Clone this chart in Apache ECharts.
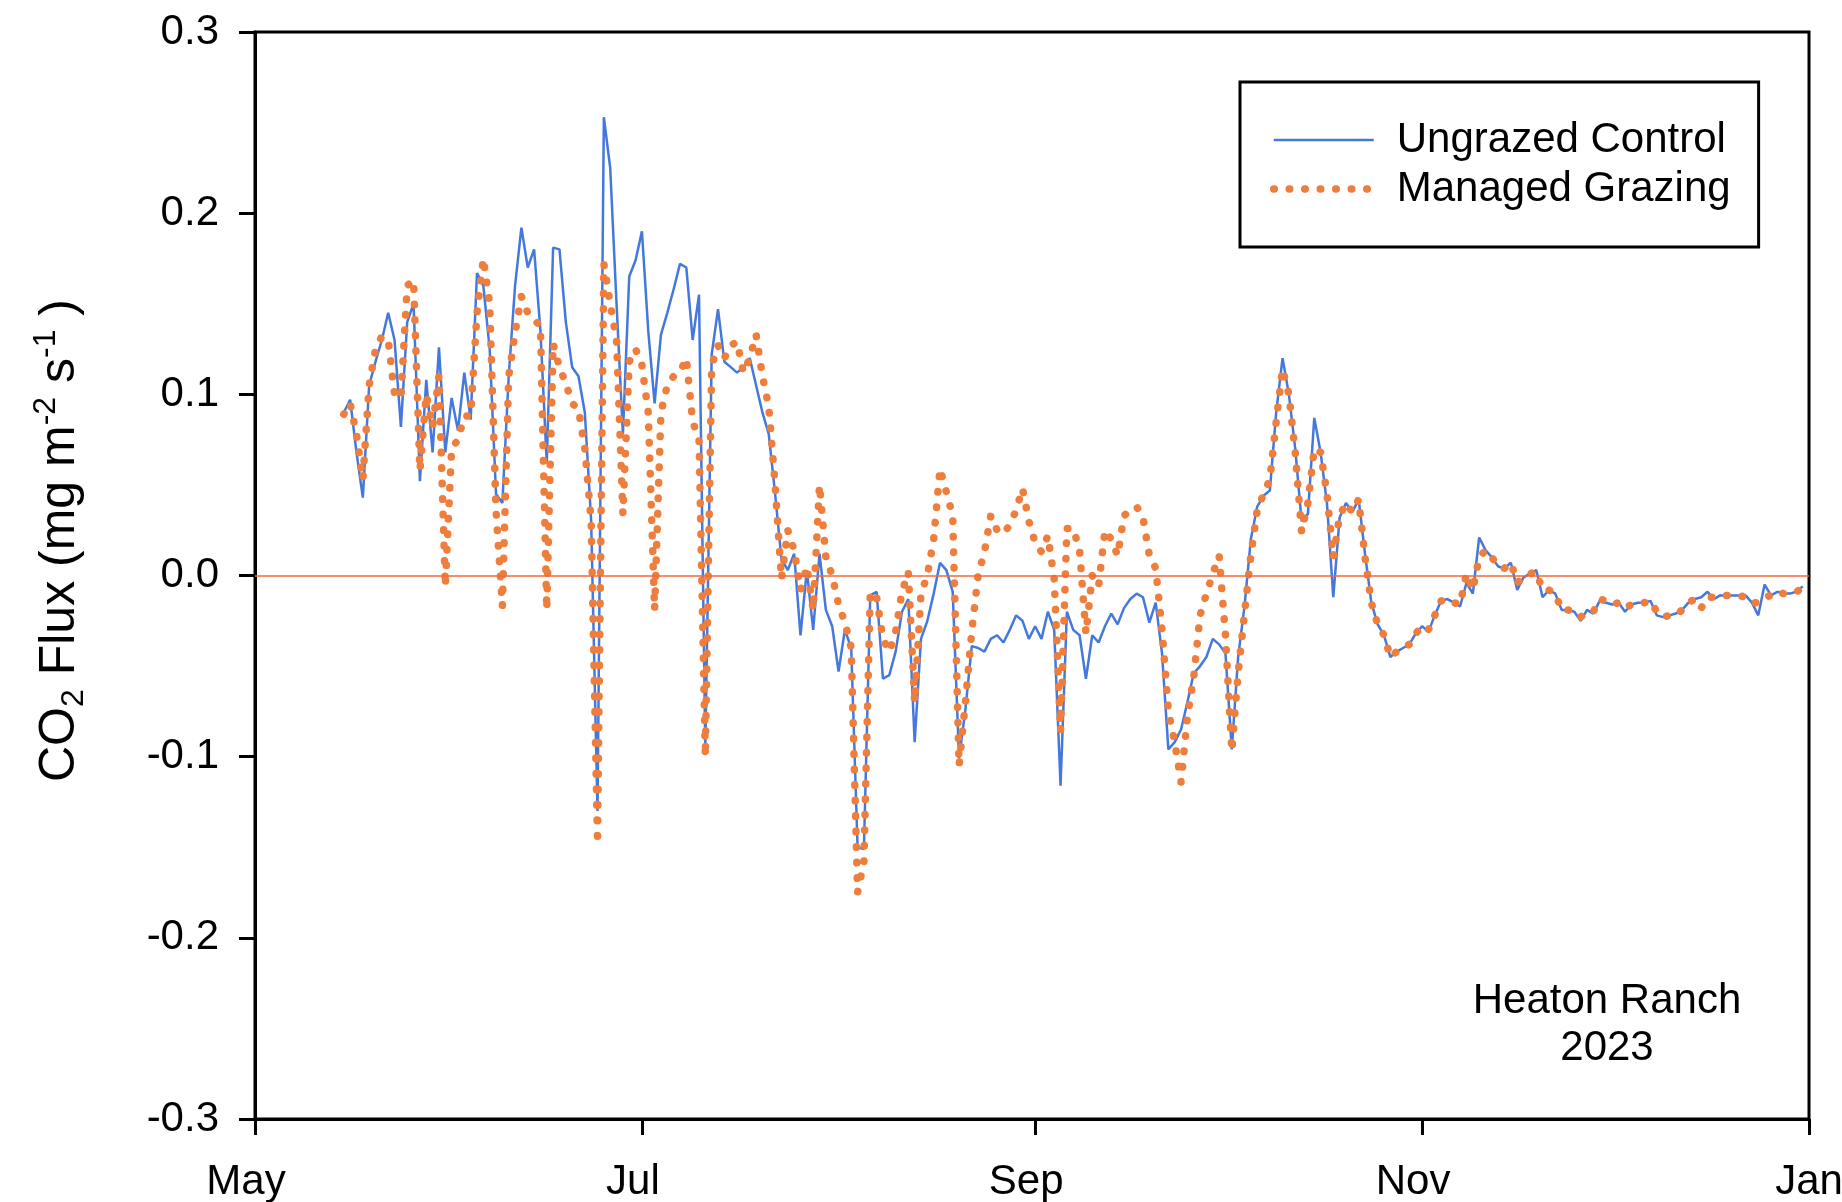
<!DOCTYPE html>
<html><head><meta charset="utf-8">
<script src="https://cdn.jsdelivr.net/npm/echarts@6.0.0/dist/echarts.min.js"></script>
<style>html,body{margin:0;padding:0;background:#fff}#c{width:1842px;height:1202px}</style>
</head><body><div id="c"></div>
<script>
const seriesNames = ['Ungrazed Control', 'Managed Grazing'];
const firstDay = [2023, 4, 15]; // first daily value: 15 May 2023
const ungrazed = [
 0.090, 0.097, 0.068, 0.043, 0.105, 0.118, 0.130, 0.145, 0.130, 0.082,
 0.140, 0.150, 0.052, 0.108, 0.068, 0.126, 0.068, 0.098, 0.080, 0.112,
 0.086, 0.167, 0.160, 0.125, 0.045, 0.040, 0.110, 0.160, 0.192, 0.170,
 0.180, 0.135, 0.062, 0.181, 0.180, 0.140, 0.115, 0.110, 0.090, 0.030,
 -0.130, 0.253, 0.225, 0.150, 0.078, 0.165, 0.174, 0.190, 0.135, 0.095,
 0.133, 0.145, 0.158, 0.172, 0.170, 0.130, 0.155, -0.095, 0.122, 0.147,
 0.118, 0.115, 0.112, 0.115, 0.120, 0.105, 0.090, 0.078, 0.045, 0.009,
 0.003, 0.012, -0.033, 0.003, -0.030, 0.012, -0.019, -0.028, -0.053, -0.030,
 -0.040, -0.150, -0.151, -0.011, -0.009, -0.057, -0.055, -0.042, -0.020, -0.013,
 -0.092, -0.035, -0.025, -0.010, 0.007, 0.003, -0.009, -0.101, -0.074, -0.039,
 -0.040, -0.042, -0.035, -0.033, -0.037, -0.030, -0.022, -0.025, -0.035, -0.028,
 -0.035, -0.020, -0.030, -0.116, -0.020, -0.030, -0.033, -0.057, -0.033, -0.037,
 -0.028, -0.021, -0.027, -0.018, -0.013, -0.010, -0.012, -0.026, -0.015, -0.043,
 -0.096, -0.092, -0.085, -0.070, -0.054, -0.050, -0.045, -0.035, -0.038, -0.043,
 -0.096, -0.045, -0.017, 0.020, 0.038, 0.044, 0.047, 0.090, 0.120, 0.100,
 0.070, 0.030, 0.034, 0.087, 0.068, 0.040, -0.012, 0.032, 0.040, 0.035,
 0.042, 0.012, -0.015, -0.027, -0.033, -0.045, -0.042, -0.040, -0.038, -0.032,
 -0.028, -0.031, -0.022, -0.014, -0.013, -0.015, -0.017, -0.004, -0.010, 0.021,
 0.014, 0.010, 0.005, 0.004, 0.007, -0.008, -0.001, 0.001, 0.003, -0.012,
 -0.008, -0.010, -0.019, -0.019, -0.020, -0.025, -0.019, -0.021, -0.014, -0.015,
 -0.016, -0.015, -0.020, -0.016, -0.015, -0.015, -0.014, -0.022, -0.023, -0.022,
 -0.021, -0.019, -0.015, -0.013, -0.012, -0.009, -0.013, -0.011, -0.011, -0.011,
 -0.011, -0.011, -0.015, -0.022, -0.005, -0.011, -0.009, -0.010, -0.010, -0.009,
 -0.006
];
const managed = [
 0.089, 0.095, 0.078, 0.053, 0.105, 0.125, 0.132, 0.130, 0.100, 0.098,
 0.160, 0.163, 0.058, 0.100, 0.082, 0.110, -0.006, 0.070, 0.075, 0.088,
 0.088, 0.145, 0.175, 0.150, 0.036, -0.017, 0.110, 0.134, 0.154, 0.145,
 0.141, 0.138, -0.019, 0.128, 0.115, 0.106, 0.095, 0.092, 0.070, 0.030,
 -0.148, 0.172, 0.150, 0.130, 0.034, 0.118, 0.125, 0.116, 0.090, -0.019,
 0.090, 0.105, 0.110, 0.112, 0.120, 0.085, 0.075, -0.100, 0.116, 0.127,
 0.120, 0.127, 0.129, 0.112, 0.120, 0.133, 0.110, 0.093, 0.050, -0.002,
 0.025, 0.014, -0.008, 0.005, -0.019, 0.050, 0.010, 0.000, -0.016, -0.026,
 -0.040, -0.175, -0.158, -0.009, -0.012, -0.035, -0.042, -0.031, -0.009, 0.002,
 -0.070, -0.010, 0.000, 0.020, 0.059, 0.046, 0.033, -0.105, -0.070, -0.031,
 0.000, 0.013, 0.033, 0.025, 0.023, 0.028, 0.036, 0.048, 0.030, 0.018,
 0.013, 0.022, -0.002, -0.086, 0.026, 0.026, 0.014, -0.032, 0.000, -0.006,
 0.025, 0.020, 0.011, 0.033, 0.036, 0.038, 0.032, 0.011, 0.004, -0.030,
 -0.075, -0.092, -0.114, -0.078, -0.056, -0.022, -0.010, 0.001, 0.011, -0.033,
 -0.097, -0.054, -0.021, 0.011, 0.036, 0.045, 0.053, 0.085, 0.114, 0.100,
 0.068, 0.024, 0.040, 0.070, 0.068, 0.045, 0.010, 0.033, 0.040, 0.035,
 0.042, 0.010, -0.015, -0.027, -0.033, -0.045, -0.042, -0.040, -0.038, -0.032,
 -0.028, -0.030, -0.022, -0.014, -0.013, -0.015, -0.016, 0.001, -0.008, 0.010,
 0.014, 0.010, 0.005, 0.004, 0.007, -0.004, -0.001, 0.001, 0.002, -0.008,
 -0.008, -0.010, -0.019, -0.019, -0.020, -0.023, -0.020, -0.020, -0.013, -0.014,
 -0.016, -0.015, -0.018, -0.016, -0.015, -0.015, -0.014, -0.020, -0.023, -0.022,
 -0.022, -0.019, -0.015, -0.013, -0.018, -0.012, -0.012, -0.011, -0.011, -0.011,
 -0.011, -0.012, -0.015, -0.015, -0.012, -0.011, -0.009, -0.010, -0.010, -0.009,
 -0.007
];
const monthTickDates = [[2023, 4, 1], [2023, 6, 1], [2023, 8, 1], [2023, 10, 1], [2024, 0, 1]];
const monthTickLabels = ['May', 'Jul', 'Sep', 'Nov', 'Jan'];
const yMin = -0.3, yMax = 0.3, yStep = 0.1;
const annotation = 'Heaton Ranch\n2023';

const FONT = '"Liberation Sans", Arial, Helvetica, sans-serif';
const BLUE = '#4478DC', ORANGE = '#EF7D3C';
const blueLine = {color: BLUE, width: 2.5, type: 'solid'};
const orangeLine = {color: ORANGE, width: 7.5, type: [0.5, 15], cap: 'round', join: 'round'};
const DAY = 86400000;
const t0 = Date.UTC(monthTickDates[0][0], monthTickDates[0][1], monthTickDates[0][2]);
const dayOf = (a) => Math.round((Date.UTC(a[0], a[1], a[2]) - t0) / DAY);
const tickDays = monthTickDates.map(dayOf);
const start = dayOf(firstDay);
const blueData = ungrazed.map((v, i) => [start + i, v]);
const orangeData = managed.map((v, i) => [start + i, v]);

const chart = echarts.init(document.getElementById('c'), null, {renderer: 'canvas'});
chart.setOption({
  animation: false,
  backgroundColor: '#ffffff',
  textStyle: {fontFamily: FONT, color: '#000'},
  grid: {
    left: 255, right: 33, top: 32, bottom: 83,
    show: true, borderColor: '#000', borderWidth: 3, backgroundColor: 'transparent',
    containLabel: false, outerBoundsMode: 'none'
  },
  legend: {
    orient: 'vertical', left: 1240, top: 82,
    padding: [37, 28, 37, 30], itemGap: 7,
    itemWidth: 100, itemHeight: 14,
    borderColor: '#000', borderWidth: 3, backgroundColor: '#fff',
    selectedMode: false,
    itemStyle: {opacity: 0},
    textStyle: {fontFamily: FONT, fontSize: 42, color: '#000', lineHeight: 40, padding: [0, 0, 0, 18]},
    data: [
      {name: seriesNames[0], itemStyle: {opacity: 0}, lineStyle: blueLine},
      {name: seriesNames[1], itemStyle: {opacity: 0}, lineStyle: orangeLine}
    ]
  },
  xAxis: {
    type: 'value',
    min: tickDays[0], max: tickDays[tickDays.length - 1],
    splitLine: {show: false},
    axisLine: {show: true, onZero: false, lineStyle: {color: '#000', width: 3}},
    axisTick: {show: true, inside: false, length: 16, customValues: tickDays, lineStyle: {color: '#000', width: 3}},
    axisLabel: {
      show: true, margin: 42, fontSize: 42, color: '#000', fontFamily: FONT,
      customValues: tickDays, showMinLabel: true, showMaxLabel: true, hideOverlap: false,
      formatter: function (v) {
        const k = tickDays.indexOf(v);
        if (k < 0) return '';
        return (k < tickDays.length - 1 ? '{m|' : '{e|') + monthTickLabels[k] + '}';
      },
      rich: {
        m: {fontSize: 42, fontFamily: FONT, color: '#000', padding: [0, 18, 0, 0]},
        e: {fontSize: 42, fontFamily: FONT, color: '#000'}
      }
    }
  },
  yAxis: {
    type: 'value', min: yMin, max: yMax, interval: yStep,
    splitLine: {show: false},
    axisLine: {show: true, onZero: false, lineStyle: {color: '#000', width: 3}},
    axisTick: {show: true, inside: false, length: 16, lineStyle: {color: '#000', width: 3}},
    axisLabel: {
      margin: 36, fontSize: 42, color: '#000', fontFamily: FONT,
      formatter: function (v) { return v.toFixed(1); }
    },
    name: '{a|CO}{sub|2}{a| Flux (mg m}{sup|-2}{a| s}{sup|-1}{a| )}',
    nameLocation: 'middle', nameGap: 165, nameRotate: 90,
    nameTextStyle: {
      fontFamily: FONT, color: '#000', padding: [0, 0, 0, 70],
      rich: {
        a: {fontSize: 50, fontFamily: FONT, color: '#000', lineHeight: 60, verticalAlign: 'middle'},
        sub: {fontSize: 32, fontFamily: FONT, color: '#000', lineHeight: 32, verticalAlign: 'bottom'},
        sup: {fontSize: 32, fontFamily: FONT, color: '#000', lineHeight: 32, verticalAlign: 'top'}
      }
    }
  },
  graphic: [{
    type: 'text', x: 1607, y: 1025,
    style: {text: annotation, fontFamily: FONT, fontSize: 42, lineHeight: 47, fill: '#000', align: 'center', verticalAlign: 'middle'}
  }],
  series: [
    {
      name: seriesNames[0], type: 'line', data: blueData,
      showSymbol: false, symbol: 'none', z: 3,
      color: BLUE,
      lineStyle: blueLine,
      markLine: {
        silent: true, symbol: ['none', 'none'], label: {show: false},
        lineStyle: {color: '#F2693A', width: 1.6, type: 'solid'},
        data: [{yAxis: 0}]
      }
    },
    {
      name: seriesNames[1], type: 'line', data: orangeData,
      showSymbol: false, symbol: 'none', z: 4,
      color: ORANGE,
      lineStyle: orangeLine
    }
  ]
});
</script></body></html>
